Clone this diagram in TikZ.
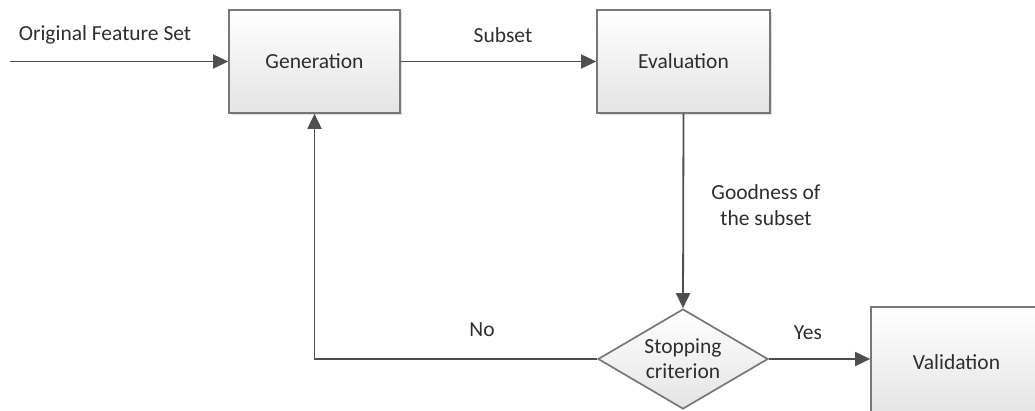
\documentclass[tikz,border=0pt]{standalone}
\usepackage{fontspec}
\setmainfont{Carlito}
\usetikzlibrary{shapes.geometric,arrows.meta,shadows}
\definecolor{txt}{HTML}{2E2E2E}
\definecolor{ln}{HTML}{4F4F4F}
\definecolor{bd}{HTML}{777777}
\definecolor{fillbot}{HTML}{E4E4E4}
\tikzset{
  procbox/.style={draw=bd, line width=1.7pt, rectangle, top color=white, bottom color=fillbot,
    drop shadow={opacity=0.25, shadow xshift=1.5pt, shadow yshift=-1.5pt},
    minimum width=171pt, minimum height=103pt, inner sep=0pt, text=txt, font=\fontsize{21.5}{25}\selectfont},
  decbox/.style={draw=bd, line width=1.7pt, diamond, aspect=1.7, top color=white, bottom color=fillbot,
    minimum width=170pt, minimum height=100pt, inner sep=0pt, text=txt, align=center,
    font=\fontsize{21.5}{25}\selectfont},
  lbl/.style={text=txt, font=\fontsize{21.5}{26}\selectfont, align=center, inner sep=0pt},
  conn/.style={draw=ln, line width=1.8pt, -{Triangle[length=15pt,width=14pt]}},
  plain/.style={draw=ln, line width=1.8pt}
}
\begin{document}
\begin{tikzpicture}[x=1pt,y=-1pt]
\useasboundingbox (0,0) rectangle (1035,410);
\clip (0,0) rectangle (1035,410);
\node[procbox] (gen) at (314.5,61.5) {Generation};
\node[procbox, minimum width=173pt] (eval) at (683.5,61.5) {Evaluation};
\node[decbox] (dec) at (683,359) {Stopping\\criterion};
\node[procbox, minimum height=110pt] (val) at (956.5,362) {Validation};
\coordinate (src) at (10,61.5);
\draw[conn] (src) -- (gen.west);
\draw[conn] (gen.east) -- (eval.west);
\draw[conn] (eval.south) -- (dec.north);
\draw[conn] (dec.east) -- (val.west |- dec.east);
\draw[conn] (dec.west) -| (gen.south);
\node[lbl] (l1) at (105,35) {Original Feature Set};
\node[lbl] (l2) at (503,35) {Subset};
\node[lbl] (l3) at (766,205) {Goodness of\\the subset};
\node[lbl] (l4) at (482,330) {No};
\node[lbl] (l5) at (808,333) {Yes};
\end{tikzpicture}
\end{document}
